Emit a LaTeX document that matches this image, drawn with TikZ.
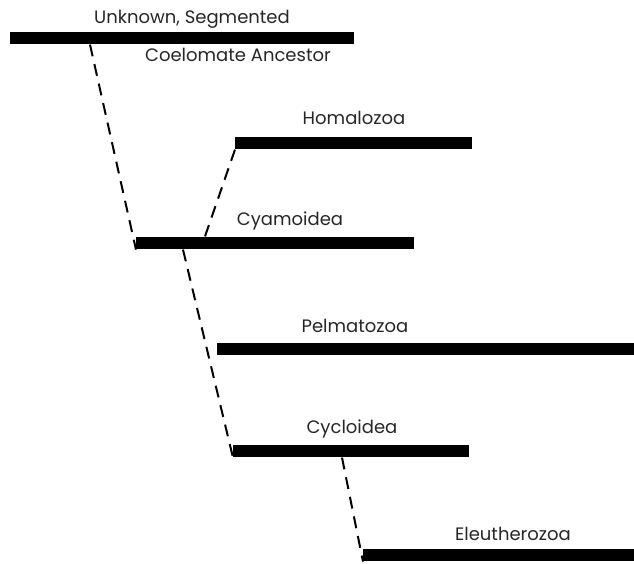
\documentclass[tikz,border=0pt]{standalone}
\usepackage{fontspec}
\setmainfont{Poppins}
\usetikzlibrary{positioning}

\begin{document}
\begin{tikzpicture}[
      x=0.5pt, y=-0.5pt,
      bar/.style={fill=black, inner sep=0pt, minimum height=6.2pt, anchor=west},
      taxon/.style={font=\fontsize{9}{10}\selectfont, text=black!85, inner sep=0pt},
      branch/.style={line width=1pt, dash pattern=on 6pt off 4pt}
    ]
    \useasboundingbox (0,0) rectangle (634,564);

    % stems
    \node[bar, minimum width=172pt]   (anc) at (10,38)  {};
    \node[bar, minimum width=118.5pt] (hom) at (235,143) {};
    \node[bar, minimum width=139pt]   (cya) at (136,243) {};
    \node[bar, minimum width=212pt]   (pel) at (217,349) {};
    \node[bar, minimum width=118pt]   (cyc) at (233,451) {};
    \node[bar, minimum width=140pt]   (ele) at (363,555) {};

    % labels
    \node[taxon] (ancup) at (192,19)  {Unknown, Segmented};
    \node[taxon] (anclo) at (238,55)  {Coelomate Ancestor};
    \node[taxon] (homl)  at (354,118) {Homalozoa};
    \node[taxon] (cyal)  at (290,221) {Cyamoidea};
    \node[taxon] (pell)  at (355,326) {Pelmatozoa};
    \node[taxon] (cycl)  at (352,429) {Cycloidea};
    \node[taxon] (elel)  at (513,534) {Eleutherozoa};

    % dashed links
    \draw[branch] ([xshift=40pt]anc.south west) -- (cya.south west);
    \draw[branch] ([xshift=34.5pt]cya.north west) -- (hom.south west);
    \draw[branch] ([xshift=23.5pt]cya.south west) -- (cyc.south west);
    \draw[branch] ([xshift=54.5pt]cyc.south west) -- (ele.south west);
  \end{tikzpicture}
\end{document}
